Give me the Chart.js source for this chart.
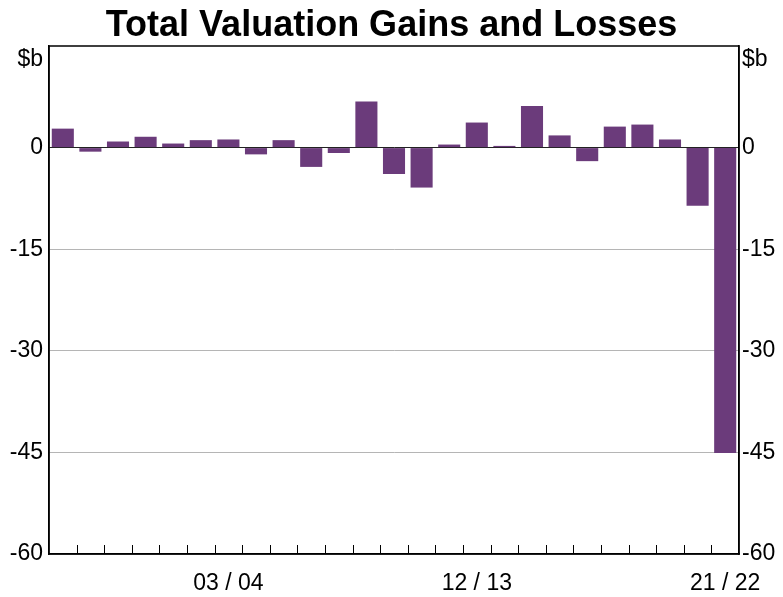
<!DOCTYPE html>
<html>
<head>
<meta charset="utf-8">
<script src="https://cdn.jsdelivr.net/npm/chart.js@4"></script>
<style>
html,body{margin:0;padding:0;background:#fff;}
#wrap{width:783px;height:597px;}
</style>
</head>
<body>
<div id="wrap"><canvas id="c" width="783" height="597"></canvas></div>
<script>
const categories = ['97/98','98/99','99/00','00/01','01/02','02/03','03/04','04/05','05/06','06/07','07/08','08/09','09/10','10/11','11/12','12/13','13/14','14/15','15/16','16/17','17/18','18/19','19/20','20/21','21/22'];
const gainsLosses = [2.8, -0.6, 0.9, 1.6, 0.6, 1.1, 1.2, -1.0, 1.1, -2.85, -0.8, 6.8, -3.9, -5.9, 0.45, 3.7, 0.25, 6.15, 1.8, -2.0, 3.1, 3.4, 1.2, -8.6, -45.1];
const shownXLabels = ['03/04','12/13','21/22'];
const yTicks = [15, 0, -15, -30, -45, -60];
const yUnit = '$b';

const FONT = 'Liberation Sans, Arial, sans-serif';
const BAR = '#6b3b7b';

function yLabel(v){
  if (v === 15) return ['', yUnit];
  return String(v);
}

const frame = {
  id: 'frame',
  afterDatasetsDraw(chart){
    const {ctx, chartArea:a, scales:{x}} = chart;
    ctx.save();
    ctx.strokeStyle = '#000';
    ctx.lineWidth = 1;
    ctx.beginPath();
    for (let i = 1; i < categories.length; i++){
      const px = Math.round((x.getPixelForValue(i-1) + x.getPixelForValue(i)) / 2) + 0.5;
      ctx.moveTo(px, a.bottom);
      ctx.lineTo(px, a.bottom - 9);
    }
    ctx.stroke();
    ctx.lineWidth = 1.5;
    ctx.strokeRect(a.left, a.top, a.right - a.left, a.bottom - a.top);
    ctx.restore();
  }
};

new Chart(document.getElementById('c'), {
  type: 'bar',
  data: {
    labels: categories,
    datasets: [{
      data: gainsLosses,
      backgroundColor: BAR,
      borderWidth: 0,
      barPercentage: 0.8,
      categoryPercentage: 1.0
    }]
  },
  options: {
    responsive: false,
    animation: false,
    devicePixelRatio: 1,
    layout: {padding: 0},
    plugins: {
      legend: {display: false},
      tooltip: {enabled: false},
      title: {
        display: true,
        text: 'Total Valuation Gains and Losses',
        color: '#000',
        font: {family: FONT, size: 36, weight: 'bold', lineHeight: 1.0},
        padding: {top: 8.5, bottom: 1.5}
      }
    },
    scales: {
      x: {
        type: 'category',
        offset: true,
        grid: {display: false, drawTicks: false},
        border: {display: true, color: '#000', width: 1.5},
        ticks: {
          autoSkip: false,
          maxRotation: 0,
          padding: 16,
          color: '#000',
          font: {family: FONT, size: 23},
          callback: function(val, idx){
            const l = categories[idx];
            return shownXLabels.includes(l) ? l.replace('/', ' / ') : '';
          }
        },
        afterFit(s){ s.height = 43; }
      },
      y: {
        position: 'left',
        min: -60, max: 15,
        afterBuildTicks(s){ s.ticks = yTicks.map(v => ({value: v})); },
        grid: {
          drawTicks: false,
          lineWidth: 1,
          color: ctx => ctx.tick && ctx.tick.value === 0 ? '#222' : (ctx.tick && (ctx.tick.value === 15 || ctx.tick.value === -60) ? 'rgba(0,0,0,0)' : '#b5b5b5')
        },
        border: {display: true, color: '#000', width: 1.5},
        ticks: {
          padding: 6,
          color: '#000',
          font: {family: FONT, size: 23, lineHeight: 1.2},
          callback: v => yLabel(v)
        },
        afterFit(s){ s.width = 49; }
      },
      y1: {
        position: 'right',
        min: -60, max: 15,
        afterBuildTicks(s){ s.ticks = yTicks.map(v => ({value: v})); },
        grid: {display: false, drawTicks: false},
        border: {display: true, color: '#000', width: 1.5},
        ticks: {
          padding: 3,
          color: '#000',
          font: {family: FONT, size: 23, lineHeight: 1.2},
          callback: v => yLabel(v)
        },
        afterFit(s){ s.width = 44; }
      }
    }
  },
  plugins: [frame]
});
</script>
</body>
</html>
